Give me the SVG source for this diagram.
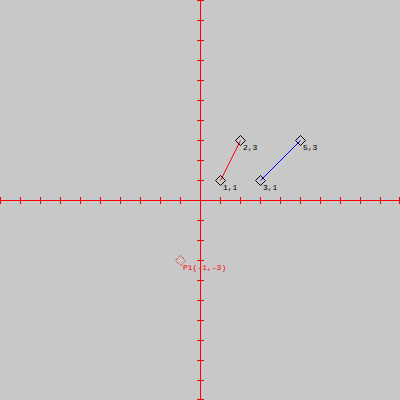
<svg xmlns="http://www.w3.org/2000/svg" width="400" height="400" viewBox="0 0 400 400">
<style>
.ax{stroke:#ff0000;stroke-width:1;fill:none;shape-rendering:crispEdges}
.pt{fill:none;stroke:#000;stroke-width:1}
.lb{font-family:"Liberation Mono","DejaVu Sans Mono",monospace;font-size:8px;fill:#000}
</style>
<rect width="400" height="400" fill="#c8c8c8"/>
<g id="axes" class="ax">
<line x1="0" y1="200.5" x2="400" y2="200.5"/>
<line x1="200.5" y1="0" x2="200.5" y2="400"/>
<path d="M0.5 197V204M20.5 197V204M40.5 197V204M60.5 197V204M80.5 197V204M100.5 197V204M120.5 197V204M140.5 197V204M160.5 197V204M180.5 197V204M220.5 197V204M240.5 197V204M260.5 197V204M280.5 197V204M300.5 197V204M320.5 197V204M340.5 197V204M360.5 197V204M380.5 197V204M399.5 197V204"/>
<path d="M197 0.5H204M197 20.5H204M197 40.5H204M197 60.5H204M197 80.5H204M197 100.5H204M197 120.5H204M197 140.5H204M197 160.5H204M197 180.5H204M197 220.5H204M197 240.5H204M197 260.5H204M197 280.5H204M197 300.5H204M197 320.5H204M197 340.5H204M197 360.5H204M197 380.5H204M197 399.5H204"/>
</g>
<g id="connectors">
<line x1="220.5" y1="180.5" x2="240.5" y2="140.5" stroke="#ff0000" stroke-width="1"/>
<line x1="260.5" y1="180.5" x2="300.5" y2="140.5" stroke="#0000ff" stroke-width="1"/>
</g>
<g id="p11"><path class="pt" d="M220.5 175.5L225.5 180.5L220.5 185.5L215.5 180.5Z"/><text class="lb" x="223" y="190">1,1</text></g>
<g id="p23"><path class="pt" d="M240.5 135.5L245.5 140.5L240.5 145.5L235.5 140.5Z"/><text class="lb" x="243" y="150">2,3</text></g>
<g id="p31"><path class="pt" d="M260.5 175.5L265.5 180.5L260.5 185.5L255.5 180.5Z"/><text class="lb" x="263" y="190">3,1</text></g>
<g id="p53"><path class="pt" d="M300.5 135.5L305.5 140.5L300.5 145.5L295.5 140.5Z"/><text class="lb" x="303" y="150">5,3</text></g>
<g id="P1"><path d="M180.5 255.5L185.5 260.5L180.5 265.5L175.5 260.5Z" fill="none" stroke="#ff0000" stroke-width="1" stroke-dasharray="1,1"/><text class="lb" x="183" y="270" fill="#ff0000" style="fill:#ff0000">P1(-1,-3)</text></g>
</svg>
